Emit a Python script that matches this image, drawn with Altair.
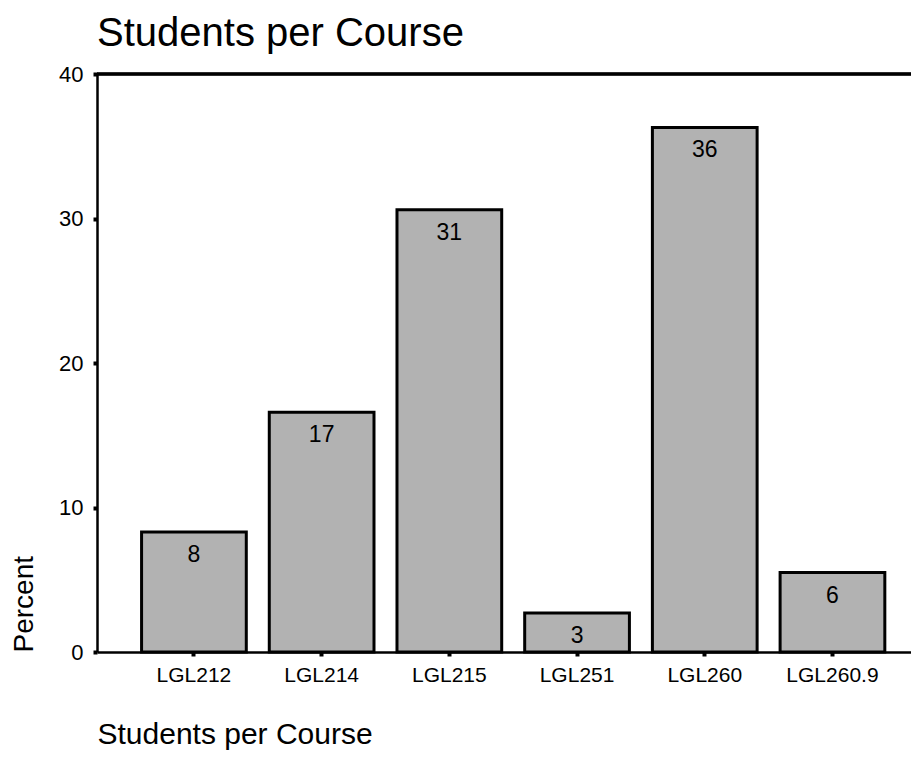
import altair as alt
import pandas as pd

courses = ["LGL212", "LGL214", "LGL215", "LGL251", "LGL260", "LGL260.9"]
percents = [8.3, 16.6, 30.6, 2.7, 36.3, 5.5]
labels = ["8", "17", "31", "3", "36", "6"]

df = pd.DataFrame({"course": courses, "pct": percents, "label": labels})

FONT = "Liberation Sans"

x = alt.X(
    "course:N",
    sort=courses,
    scale=alt.Scale(paddingInner=0.18, paddingOuter=0.277, align=0.63),
    axis=alt.Axis(
        title="Students per Course",
        titleAnchor="start",
        titleAlign="left",
        titleFontSize=30,
        titleFontWeight="normal",
        titleFont=FONT,
        titlePadding=34,
        titleColor="black",
        labelAngle=0,
        labelFontSize=21,
        labelFont=FONT,
        labelColor="black",
        labelPadding=8,
        domainColor="black",
        domainWidth=2.5,
        tickColor="black",
        tickSize=4,
        tickWidth=4,
    ),
)

y = alt.Y(
    "pct:Q",
    scale=alt.Scale(domain=[0, 40], nice=False),
    axis=alt.Axis(
        title="Percent",
        titleAnchor="start",
        titleFontSize=28,
        titleFontWeight="normal",
        titleFont=FONT,
        titleColor="black",
        titlePadding=20,
        values=[0, 10, 20, 30, 40],
        labelFontSize=22,
        labelFont=FONT,
        labelColor="black",
        labelPadding=10,
        grid=False,
        domainColor="black",
        domainWidth=2.5,
        tickColor="black",
        tickSize=4,
        tickWidth=4,
    ),
)

bars = alt.Chart(df).mark_bar(
    color="#b2b2b2", stroke="black", strokeWidth=3
).encode(x=x, y=y)

text = alt.Chart(df).mark_text(
    baseline="top", dy=12, fontSize=23, font=FONT, color="black"
).encode(x=alt.X("course:N", sort=courses), y="pct:Q", text="label:N")

top_rule = alt.Chart(df).mark_rule(color="black", strokeWidth=2.5).encode(
    x=alt.value(0), x2=alt.value(830), y=alt.value(0)
)

chart = (
    alt.layer(bars, text, top_rule)
    .properties(
        width=814,
        height=578,
        title=alt.TitleParams(
            "Students per Course",
            anchor="start",
            frame="group",
            fontSize=40,
            font=FONT,
            fontWeight="normal",
            color="black",
            offset=9,
        ),
        autosize=alt.AutoSizeParams(type="none"),
        padding={"left": 89, "top": 66, "right": 0, "bottom": 100},
    )
    .configure_view(stroke=None)
)

chart.save("out.html", embed_options={"renderer": "svg", "actions": False})
